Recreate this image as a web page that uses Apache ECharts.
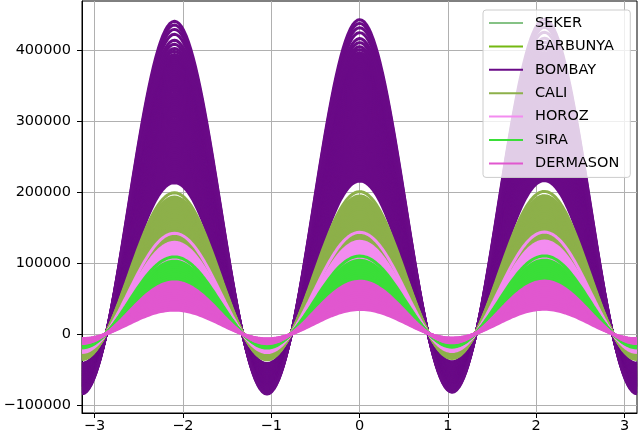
<!DOCTYPE html>
<html><head><meta charset="utf-8">
<script src="https://cdn.jsdelivr.net/npm/echarts@6/dist/echarts.min.js"></script>
<style>html,body{margin:0;padding:0;background:#fff}#c{width:640px;height:437px}</style>
</head><body><div id="c"></div>
<script>
// ---- Dry Bean data (Andrews curves) ----
const classes = ['SEKER', 'BARBUNYA', 'BOMBAY', 'CALI', 'HOROZ', 'SIRA', 'DERMASON'];

// Sample bean Areas per class
const sekerArea = [28500, 31200, 33800, 36400, 39200, 46100, 49300, 52600];
const barbunyaArea = [81200, 86900, 92400, 98700, 104300, 109800];
const bombayArea = [123600, 125400, 127200, 128900, 130700, 132500, 134200, 136000, 137700, 139600,
  141300, 143100, 144800, 146600, 148400, 150100, 151900, 153600, 155500, 157200,
  159000, 160700, 162500, 164300, 166000, 167800, 169600, 171300, 173100, 174800,
  176700, 178400, 180200, 181900, 183700, 185500, 187200, 189000, 190800, 192500,
  194300, 196000, 197900, 199600, 201400, 203100, 204900, 206700, 208400, 210200,
  211900, 213800, 215500, 217300, 219000, 220800, 222600, 224300, 225700,
  227400, 229900, 232300, 235600, 238900, 243700, 247700, 251200, 254200];
const caliArea = [70000, 71800, 73700, 75500, 77300, 79100, 80900, 82800, 84600, 86400,
  88200, 90000, 91900, 93700, 95500, 97300, 99100, 101000, 102800, 104600,
  106400, 108200, 110100, 111800, 113200, 116700];
const horozArea = [61900, 64800, 66600, 68400, 70300, 72100, 73900, 75800, 83200];
const siraArea = [43300, 45100, 46900, 48700, 50500, 52300, 54100, 55900, 57700, 59500, 60500, 64000];
const dermasonArea = [20100, 21900, 23700, 25500, 27300, 29100, 30900, 32700, 34500, 36300,
  38100, 39900, 41700, 43300];

// Per-class mean shape features
const perimeter     = [728, 1046, 1585, 1058, 920, 796, 666];
const majorAxis     = [251, 370, 593, 409, 372, 300, 246];
const minorAxis     = [202, 240, 374, 236, 184, 191, 165];
const aspectRatio   = [1.25, 1.54, 1.59, 1.73, 2.03, 1.57, 1.49];
const eccentricity  = [0.58, 0.75, 0.77, 0.81, 0.86, 0.77, 0.73];
const equivDiameter = [225, 297, 469, 309, 260, 238, 201];
const solidity      = [0.990, 0.986, 0.965, 0.988, 0.985, 0.992, 0.991];

const xTicks = [-3, -2, -1, 0, 1, 2, 3];
const yTicks = [-100000, 0, 100000, 200000, 300000, 400000];

// ---- styles ----
const classColors = ['#85c285', '#74b812', '#6a0a87', '#8db04a', '#f38cf0', '#3ade38', '#e157cf'];
const areasByClass = [sekerArea, barbunyaArea, bombayArea, caliArea, horozArea, siraArea, dermasonArea];

// Andrews transform: f(t) = x1/sqrt2 + x2 sin t + x3 cos t + x4 sin2t + ...
const N = 241;
const tGrid = [];
for (let i = 0; i < N; i++) tGrid.push(-Math.PI + 2 * Math.PI * i / (N - 1));

function andrews(row, t) {
  let v = row[0] / Math.SQRT2;
  for (let k = 1; k < row.length; k++) {
    const h = Math.floor((k + 1) / 2);
    v += row[k] * (k % 2 === 1 ? Math.sin(h * t) : Math.cos(h * t));
  }
  return v;
}

const series = [];
classes.forEach((name, ci) => {
  areasByClass[ci].forEach(A => {
    const row = [A, perimeter[ci], majorAxis[ci], minorAxis[ci], aspectRatio[ci],
      eccentricity[ci], A / solidity[ci], equivDiameter[ci]];
    series.push({
      name: name,
      type: 'line',
      data: tGrid.map(t => [t, andrews(row, t)]),
      showSymbol: false,
      symbol: 'none',
      silent: true,
      animation: false,
      emphasis: {disabled: true},
      lineStyle: {color: classColors[ci], width: 3},
      itemStyle: {color: classColors[ci]}
    });
  });
});

const font = 'DejaVu Sans';
const fmtMinus = v => String(v).replace('-', '\u2212');

const chart = echarts.init(document.getElementById('c'), null, {renderer: 'canvas'});
chart.setOption({
  animation: false,
  backgroundColor: '#fff',
  grid: {left: 82, right: 3, top: 1, bottom: 24, show: true, borderColor: '#000', borderWidth: 1, backgroundColor: 'transparent'},
  xAxis: {
    type: 'value', min: -Math.PI, max: Math.PI, splitNumber: 6,
    axisLine: {show: true, onZero: false, lineStyle: {color: '#000', width: 1}},
    axisTick: {show: true, length: 5, lineStyle: {color: '#000'}, customValues: xTicks},
    axisLabel: {show: true, margin: 6, color: '#000', fontFamily: font, fontSize: 14.5,
      customValues: xTicks,
      formatter: v => (Math.abs(v - Math.round(v)) < 1e-6 ? fmtMinus(Math.round(v)) : '')},
    splitLine: {show: true, lineStyle: {color: '#b0b0b0', width: 1}}
  },
  yAxis: {
    type: 'value', min: -111400, max: 470100, splitNumber: 5,
    axisLine: {show: true, onZero: false, lineStyle: {color: '#000', width: 1}},
    axisTick: {show: true, length: 5, lineStyle: {color: '#000'}, customValues: yTicks},
    axisLabel: {show: true, margin: 11, color: '#000', fontFamily: font, fontSize: 14.5,
      customValues: yTicks,
      formatter: v => (v % 100000 === 0 ? fmtMinus(v) : '')},
    splitLine: {show: true, lineStyle: {color: '#b0b0b0', width: 1}}
  },
  legend: {
    data: classes,
    orient: 'vertical',
    left: 483, top: 10,
    padding: [5, 11, 6, 6],
    itemGap: 7.4,
    itemWidth: 34, itemHeight: 2,
    icon: 'rect',
    selectedMode: false,
    backgroundColor: 'rgba(255,255,255,0.8)',
    borderColor: '#cccccc', borderWidth: 1, borderRadius: 3,
    textStyle: {color: '#000', fontFamily: font, fontSize: 14.5, lineHeight: 16, padding: [0, 0, 0, 7]}
  },
  series: series
});
</script>
</body></html>
